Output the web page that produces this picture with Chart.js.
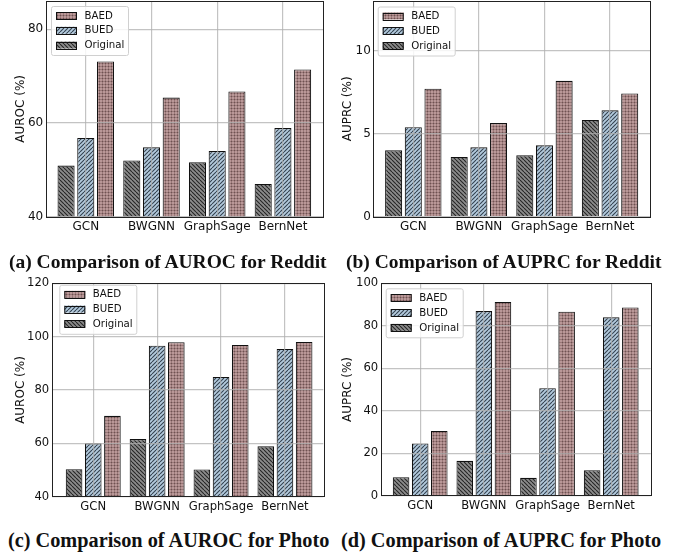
<!DOCTYPE html>
<html>
<head>
<meta charset="utf-8">
<script src="https://cdn.jsdelivr.net/npm/chart.js@4/dist/chart.umd.min.js"></script>
<style>
  body { margin:0; background:#fff; width:681px; height:559px; position:relative; overflow:hidden; }
  canvas { position:absolute; }
  .cap { position:absolute; font-family:"Liberation Serif", serif; font-weight:bold; font-size:19.5px; white-space:nowrap; color:#111; line-height:22px; }
  .cap.wide { font-size:20.3px; }
</style>
</head>
<body>
<canvas id="cA" width="340" height="240" style="left:0;top:0"></canvas>
<canvas id="cB" width="341" height="240" style="left:340px;top:0"></canvas>
<canvas id="cC" width="340" height="250" style="left:0;top:270px"></canvas>
<canvas id="cD" width="341" height="250" style="left:340px;top:270px"></canvas>
<div class="cap" style="left:9px;top:251px">(a) Comparison of AUROC for Reddit</div>
<div class="cap" style="left:346px;top:251px">(b) Comparison of AUPRC for Reddit</div>
<div class="cap wide" style="left:8px;top:529px">(c) Comparison of AUROC for Photo</div>
<div class="cap wide" style="left:341px;top:529px">(d) Comparison of AUPRC for Photo</div>
<script>
// data
const models = ['GCN', 'BWGNN', 'GraphSage', 'BernNet'];
const seriesNames = ['Original', 'BUED', 'BAED'];

const redditAurocOriginal = [50.9, 52.0, 51.6, 47.0];
const redditAurocBUED     = [56.8, 54.8, 54.0, 58.9];
const redditAurocBAED     = [73.1, 65.4, 66.7, 71.4];
const redditAurocTicks    = [40, 60, 80];

const redditAuprcOriginal = [4.0, 3.6, 3.7, 5.83];
const redditAuprcBUED     = [5.39, 4.18, 4.3, 6.41];
const redditAuprcBAED     = [7.71, 5.64, 8.19, 7.43];
const redditAuprcTicks    = [0, 5, 10];

const photoAurocOriginal = [50.3, 61.6, 50.2, 58.9];
const photoAurocBUED     = [60.0, 96.6, 84.9, 95.4];
const photoAurocBAED     = [70.3, 97.9, 96.9, 98.0];
const photoAurocTicks    = [40, 60, 80, 100, 120];

const photoAuprcOriginal = [8.7, 16.4, 8.4, 12.0];
const photoAuprcBUED     = [24.6, 86.9, 50.6, 84.0];
const photoAuprcBAED     = [30.5, 91.2, 86.6, 88.6];
const photoAuprcTicks    = [0, 20, 40, 60, 80, 100];

Chart.defaults.font.family = '"DejaVu Sans", sans-serif';
Chart.defaults.color = '#111';

// hatch fills like matplotlib
function hatch(kind) {
  const s = kind === 'dots' ? 3 : 4;
  const c = document.createElement('canvas');
  c.width = c.height = s;
  const g = c.getContext('2d');
  if (kind === 'dots') {
    g.fillStyle = '#b99898'; g.fillRect(0, 0, s, s);
    g.fillStyle = '#9a7878'; g.fillRect(0, 0, s, 1); g.fillRect(0, 0, 1, s);
    g.fillStyle = '#6c5252'; g.fillRect(0, 0, 1, 1);
    return g.createPattern(c, 'repeat');
  }
  g.fillStyle = kind === '/' ? '#b3cadd' : '#8c8c8c';
  g.fillRect(0, 0, s, s);
  g.strokeStyle = kind === '/' ? '#34414f' : '#262626';
  g.lineWidth = 1.1;
  for (const o of [-s, 0, s]) {
    g.beginPath();
    if (kind === '/') { g.moveTo(o, s); g.lineTo(o + s, 0); }
    else { g.moveTo(o, 0); g.lineTo(o + s, s); }
    g.stroke();
  }
  return g.createPattern(c, 'repeat');
}
const fills = { Original: hatch('\\'), BUED: hatch('/'), BAED: hatch('dots') };

const framePlugin = {
  id: 'frame',
  afterDraw(chart) {
    const a = chart.chartArea, ctx = chart.ctx;
    ctx.save();
    ctx.strokeStyle = '#222'; ctx.lineWidth = 1;
    ctx.strokeRect(Math.round(a.left) + 0.5, Math.round(a.top) + 0.5, Math.round(a.right - a.left), Math.round(a.bottom - a.top));
    // legend box (inside, upper left), items reversed like matplotlib
    const lg = chart.options.plugins.boxLegend;
    const x0 = a.left + lg.dx, y0 = a.top + lg.dy;
    ctx.fillStyle = 'rgba(255,255,255,0.85)';
    ctx.strokeStyle = '#d0d0d0';
    ctx.beginPath();
    ctx.roundRect(x0 + 0.5, y0 + 0.5, 77, 49, 2);
    ctx.fill(); ctx.stroke();
    const ds = chart.data.datasets.slice().reverse();
    ctx.font = '10.2px "DejaVu Sans"';
    ctx.textBaseline = 'middle';
    ds.forEach((d, i) => {
      const cy = y0 + 9.5 + i * 14.8;
      ctx.fillStyle = d.backgroundColor;
      ctx.fillRect(x0 + 5, cy - 3.5, 21, 7);
      ctx.strokeStyle = '#111'; ctx.lineWidth = 1;
      ctx.strokeRect(x0 + 5.5, Math.round(cy - 3.5) + 0.5, 20, 7);
      ctx.fillStyle = '#111';
      ctx.fillText(d.label, x0 + 33.5, cy + 0.5);
    });
    ctx.restore();
  }
};

function makeChart(id, cfg) {
  const cv = document.getElementById(id);
  const W = cv.width, H = cv.height, ar = cfg.area;
  const sets = [cfg.original, cfg.bued, cfg.baed];
  new Chart(cv, {
    type: 'bar',
    data: {
      datasets: seriesNames.map((name, k) => ({
        label: name,
        data: sets[k].map((v, i) => ({ x: i, y: v })),
        backgroundColor: fills[name],
        borderColor: '#111',
        borderWidth: 1.1,
        categoryPercentage: 0.9,
        barPercentage: 0.867
      }))
    },
    options: {
      responsive: false,
      animation: false,
      layout: { padding: { left: 0, top: ar.top, right: W - ar.right, bottom: 0 } },
      plugins: { legend: { display: false }, tooltip: { enabled: false }, boxLegend: cfg.legend },
      scales: {
        x: {
          type: 'linear', offset: false, min: cfg.xmin, max: cfg.xmax,
          grid: { offset: false, z: 1, color: 'rgba(175,175,175,0.75)', lineWidth: 1.2, drawTicks: false },
          border: { display: false },
          ticks: { font: { size: cfg.tickSize }, padding: 3, maxRotation: 0, callback: v => models[v] },
          afterBuildTicks: s => { s.ticks = models.map((m, i) => ({ value: i })); },
          afterFit: s => { s.height = H - ar.bottom; s.paddingLeft = 0; s.paddingRight = 0; }
        },
        y: {
          min: cfg.ymin, max: cfg.ymax,
          grid: { z: 1, color: 'rgba(175,175,175,0.75)', lineWidth: 1.2, drawTicks: false },
          border: { display: false },
          ticks: { font: { size: cfg.tickSize }, padding: 2.5 },
          afterBuildTicks: s => { s.ticks = cfg.ticks.map(v => ({ value: v })); },
          title: { display: true, text: cfg.title, font: { size: 12 }, padding: { top: cfg.titleX - 7.2, bottom: 0 } },
          afterFit: s => { s.width = ar.left; s.paddingTop = 0; s.paddingBottom = 0; }
        }
      }
    },
    plugins: [framePlugin]
  });
}

makeChart('cA', { original: redditAurocOriginal, bued: redditAurocBUED, baed: redditAurocBAED,
  ticks: redditAurocTicks, ymin: 40, ymax: 86, xmin: -0.61, xmax: 3.61, title: 'AUROC (%)', tickSize: 12,
  area: { left: 45.7, top: 1, right: 323, bottom: 216.7 }, titleX: 20.7, legend: { dx: 5.3, dy: 5 } });
makeChart('cB', { original: redditAuprcOriginal, bued: redditAuprcBUED, baed: redditAuprcBAED,
  ticks: redditAuprcTicks, ymin: 0, ymax: 13, xmin: -0.61, xmax: 3.62, title: 'AUPRC (%)', tickSize: 12,
  area: { left: 33.3, top: 1, right: 310.7, bottom: 216.7 }, titleX: 8.3, legend: { dx: 4.4, dy: 5.5 } });
makeChart('cC', { original: photoAurocOriginal, bued: photoAurocBUED, baed: photoAurocBAED,
  ticks: photoAurocTicks, ymin: 40, ymax: 120, xmin: -0.65, xmax: 3.6, title: 'AUROC (%)', tickSize: 11.6,
  area: { left: 51.7, top: 13.3, right: 323.3, bottom: 226.7 }, titleX: 21.2, legend: { dx: 7.6, dy: 1.5 } });
makeChart('cD', { original: photoAuprcOriginal, bued: photoAuprcBUED, baed: photoAuprcBAED,
  ticks: photoAuprcTicks, ymin: 0, ymax: 100, xmin: -0.62, xmax: 3.62, title: 'AUPRC (%)', tickSize: 11.6,
  area: { left: 40.7, top: 13.3, right: 310.7, bottom: 225.7 }, titleX: 8.3, legend: { dx: 5, dy: 5 } });
</script>
</body>
</html>
